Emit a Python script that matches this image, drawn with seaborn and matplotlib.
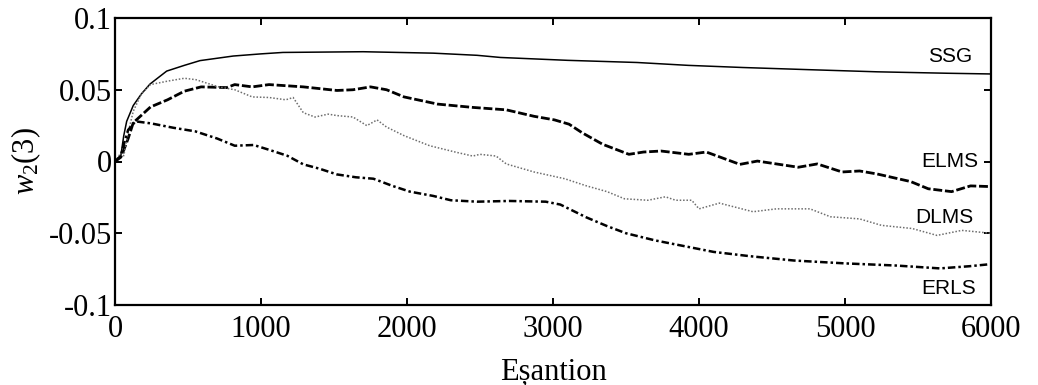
import numpy as np
import pandas as pd
import matplotlib
matplotlib.use("Agg")
import matplotlib.pyplot as plt
import seaborn as sns

# ---- data ----
ssg_x = [0, 40, 60, 80, 125, 180, 240, 354, 475, 582, 810, 1000, 1150, 1700, 2180,
         2480, 2640, 3100, 3575, 3925, 4300, 4750, 5220, 5700, 6000]
ssg_y = [0, 0.004, 0.018, 0.028, 0.039, 0.047, 0.054, 0.063, 0.067, 0.0703, 0.0735,
         0.075, 0.076, 0.0765, 0.0755, 0.074, 0.0725, 0.0705, 0.069, 0.067, 0.0655,
         0.064, 0.0625, 0.0615, 0.061]

elms_x = [0, 40, 60, 90, 125, 243, 360, 475, 590, 765, 820, 940, 1055, 1290, 1520,
          1630, 1750, 1860, 1980, 2210, 2450, 2680, 2870, 3010, 3110, 3200, 3340, 3520,
          3620, 3740, 3930, 4050, 4280, 4400, 4680, 4810, 4980, 5100, 5220, 5450, 5570,
          5730, 5860, 6000]
elms_y = [0, 0.003, 0.008, 0.016, 0.027, 0.038, 0.043, 0.049, 0.052, 0.0515, 0.0536,
          0.052, 0.0536, 0.052, 0.0495, 0.050, 0.052, 0.050, 0.045, 0.040, 0.0377, 0.036,
          0.0315, 0.029, 0.026, 0.020, 0.012, 0.005, 0.0066, 0.0073, 0.005, 0.0066,
          -0.002, 0.0003, -0.004, -0.0017, -0.0073, -0.0066, -0.0087, -0.014, -0.019,
          -0.021, -0.017, -0.0175]

dlms_x = [0, 40, 60, 90, 125, 180, 243, 360, 475, 555, 710, 820, 940, 1055, 1170, 1220,
          1290, 1370, 1460, 1520, 1630, 1725, 1795, 1860, 1980, 2155, 2330, 2450, 2500,
          2610, 2680, 2870, 3080, 3230, 3370, 3490, 3650, 3770, 3840, 3950, 4000, 4140,
          4370, 4530, 4760, 4900, 5100, 5250, 5460, 5630, 5800, 6000]
dlms_y = [0, 0.006, 0.004, 0.02, 0.035, 0.047, 0.0536, 0.056, 0.058, 0.057, 0.052, 0.050,
          0.045, 0.0446, 0.043, 0.0446, 0.034, 0.031, 0.033, 0.032, 0.031, 0.025, 0.029,
          0.024, 0.018, 0.011, 0.0066, 0.0038, 0.005, 0.0038, -0.0017, -0.0073, -0.012,
          -0.017, -0.021, -0.026, -0.027, -0.0246, -0.027, -0.027, -0.033, -0.029, -0.035,
          -0.033, -0.033, -0.0385, -0.040, -0.0445, -0.0467, -0.0515, -0.048, -0.050]

erls_x = [0, 40, 60, 90, 140, 250, 400, 550, 700, 820, 950, 1060, 1180, 1290, 1400, 1520,
          1650, 1770, 1900, 2020, 2180, 2300, 2480, 2700, 2950, 3050, 3230, 3370, 3500,
          3700, 3900, 4100, 4350, 4650, 5000, 5350, 5650, 5850, 6000]
erls_y = [0, 0.004, 0.012, 0.022, 0.028, 0.0265, 0.0235, 0.021, 0.016, 0.011, 0.0115,
          0.008, 0.004, -0.002, -0.005, -0.009, -0.011, -0.012, -0.017, -0.021, -0.024,
          -0.027, -0.028, -0.0275, -0.028, -0.030, -0.039, -0.045, -0.050, -0.055, -0.059,
          -0.063, -0.066, -0.069, -0.071, -0.0725, -0.0745, -0.073, -0.0715]

series_names = ["SSG", "ELMS", "DLMS", "ERLS"]
x_ticks = [0, 1000, 2000, 3000, 4000, 5000, 6000]
y_ticks = [-0.1, -0.05, 0, 0.05, 0.1]
y_tick_labels = ["-0.1", "-0.05", "0", "0.05", "0.1"]

df = pd.concat([
    pd.DataFrame({"x": ssg_x, "y": ssg_y, "method": "SSG"}),
    pd.DataFrame({"x": elms_x, "y": elms_y, "method": "ELMS"}),
    pd.DataFrame({"x": dlms_x, "y": dlms_y, "method": "DLMS"}),
    pd.DataFrame({"x": erls_x, "y": erls_y, "method": "ERLS"}),
], ignore_index=True)

sns.set_style("ticks")
plt.rcParams["font.family"] = ["Liberation Serif", "DejaVu Serif"]
plt.rcParams["mathtext.fontset"] = "custom"
plt.rcParams["mathtext.rm"] = "Liberation Serif"
plt.rcParams["mathtext.it"] = "Liberation Serif:italic"
plt.rcParams["text.color"] = "black"
plt.rcParams["axes.labelcolor"] = "black"

fig = plt.figure(figsize=(10.38, 3.85), dpi=100)
ax = fig.add_axes([115 / 1038, 1 - 305 / 385, (991 - 115) / 1038, (305 - 18) / 385])

palette = {"SSG": "black", "ELMS": "black", "DLMS": "#6e6e6e", "ERLS": "black"}
dashes = {"SSG": "", "ELMS": (3.2, 1.0), "DLMS": (1.0, 1.2), "ERLS": (3.0, 1.2, 1.0, 1.2)}
widths = {"SSG": 1.1, "ELMS": 2.0, "DLMS": 1.1, "ERLS": 1.8}

for name in series_names:
    sub = df[df["method"] == name]
    sns.lineplot(data=sub, x="x", y="y", ax=ax, color=palette[name],
                 linewidth=widths[name], estimator=None, sort=False,
                 dashes=False, legend=False)
    line = ax.lines[-1]
    if dashes[name]:
        line.set_dashes(dashes[name])

ax.set_xlim(0, 6000)
ax.set_ylim(-0.1, 0.1)
ax.set_xticks(x_ticks)
ax.set_xticklabels([str(t) for t in x_ticks])
ax.set_yticks(y_ticks)
ax.set_yticklabels(y_tick_labels)
ax.tick_params(direction="in", length=5, width=1.4, top=True, right=True,
               labelsize=22, colors="black", labelcolor="black")
ax.tick_params(axis="x", pad=7)
ax.tick_params(axis="y", pad=2)
for s in ax.spines.values():
    s.set_linewidth(1.6)
    s.set_color("black")

ax.set_xlabel("Eșantion", fontsize=22, labelpad=10, color="black")
ax.set_ylabel("$w_2$(3)", fontsize=22, labelpad=4, color="black")

lab_font = dict(family="Liberation Sans", fontsize=15, ha="center", va="center",
                color="black")
ax.text(5719, 0.0735, "SSG", **lab_font)
ax.text(5719, 0.0, "ELMS", **lab_font)
ax.text(5678, -0.039, "DLMS", **lab_font)
ax.text(5712, -0.0885, "ERLS", **lab_font)

fig.savefig("out.png", dpi=100)
